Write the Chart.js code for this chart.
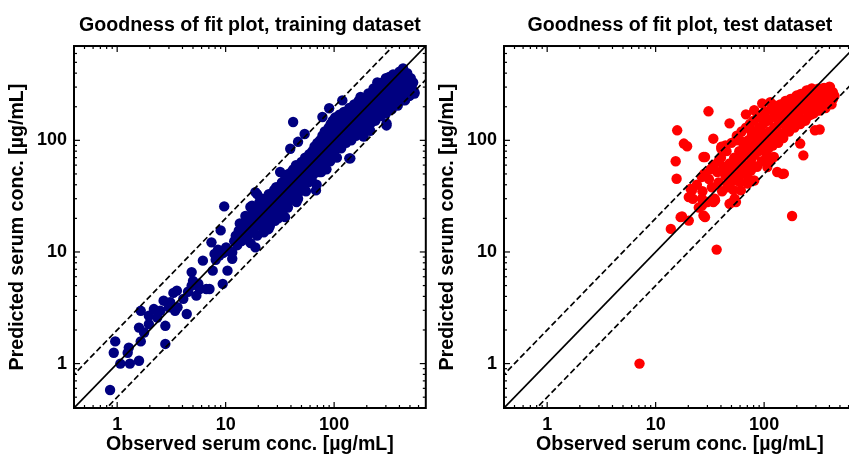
<!DOCTYPE html>
<html><head><meta charset="utf-8">
<script src="https://cdn.jsdelivr.net/npm/chart.js@4.4.1/dist/chart.umd.min.js"></script>
<style>
html,body{margin:0;padding:0;background:#fff;}
#wrap{position:relative;width:849px;height:456px;overflow:hidden;background:#fff;}
canvas{position:absolute;top:0;}
#c1{left:0;}
#c2{left:430px;}
</style></head><body>
<div id="wrap"><canvas id="c1" width="431" height="456"></canvas><canvas id="c2" width="431" height="456"></canvas></div>
<script>
// ---- axis ticks ----
const axisMin = 0.4, axisMax = 700;
const majorTicks = [1, 10, 100];
const tickLabels = ['1', '10', '100'];
const minorTicks = [0.5,0.6,0.7,0.8,0.9,2,3,4,5,6,7,8,9,20,30,40,50,60,70,80,90,200,300,400,500,600];

// ---- reference lines (identity, 2-fold, 0.5-fold) ----
const refX = [0.1, 1000];
const unityY = [0.1, 1000];
const upperY = [0.2, 2000];
const lowerY = [0.05, 500];

// ---- training dataset ----
const trainObs = [
0.86,0.96,0.93,1.07,1.31,1.59,1.28,1.25,1.65,1.65,
1.59,1.77,1.96,2.18,1.96,2.34,2.78,2.78,2.68,2.5,
3.3,3.55,3.42,3.08,4.07,4.38,4.86,4.86,5.37,5.77,
6.64,7.1,6.17,7.4,7.6,7.9,9.0,9.4,10.4,10.1,
8.75,11.5,11.5,12.4,14.8,16.4,18.8,15.8,17.5,16.9,
20.2,23.3,26.6,35.3,30.6,37.7,9.7,18.8,17.5,13.2,
3.0,3.6,4.5,5.0,5.6,8.1,8.5,9.5,10.8,12.0,
15,16,16.5,17,17.5,18,18.5,19,19.5,20,
20.5,21,21.5,22,22.5,23,23.5,24,24.5,25,
25.5,26,26.5,27,27.5,28,28.5,29,29.5,30,
31,31.5,32,33,33.5,34,35,35.5,36,37,
37.5,38,39,40,40.5,41,42,43,44,45,
46,46.5,47,48,49,50,51,52,53,54,
55,56,57,58,59,60,61,62,63,64,
65,66,67,68,69,70,71,72,73,74,
75,76,77,78,79,80,81,82,83,84,
85,86,87,88,89,90,91,92,93,94,
95,96,97,98,99,100,102,104,106,108,
110,112,114,116,118,120,123,126,129,132,
135,138,141,144,147,150,153,156,159,162,
165,168,171,174,177,180,184,188,192,196,
200,205,210,215,220,225,230,235,240,245,
250,256,262,268,274,280,287,294,301,308,
315,323,331,340,349,358,367,376,386,396,
406,416,427,438,449,460,472,484,496,509,
522,535,550,
41.9,400,495,322,267,450,304,138,76,68,
119,90,78,53.5,46.5,39.4,31.8,19.5,207,175,
152,231,374,215,187,550,460,400,432,141,
304,250,300,350,
12.8,13.5,14,14.5,15.2,15.5,16.2,17.2,18.2,19.2,
20.8,21.8,22.8,23.8,24.8,26.2,27.2,28.2,29.2,30.5,
32.5,34.5,36.5,38.5,40.5,42.5,44.5,46.5
];
const trainPred = [
0.58,1.58,1.25,1.0,1.0,1.06,1.39,1.25,1.58,2.97,
2.1,1.9,2.26,3.08,2.68,2.59,1.5,2.18,3.66,2.97,
4.3,4.5,2.97,3.55,3.8,2.78,4.99,6.6,4.06,4.66,
4.66,4.66,8.36,12.2,6.8,9.6,15.6,5.18,6.8,11.0,
9.3,8.7,9.9,14,13.6,16.6,11.0,19.1,20.5,25.3,
22,23.5,19.1,20.5,25.3,28,25.6,34.4,26,15.5,
3.2,3.2,4.4,5.5,5.2,8.5,10.5,9.8,10.2,12.5,
17,14,20,12,22,16,25,18,14,22,
28,17,20,26,15,24,30,19,22,33,
17,27,21,31,24,36,19,28,33,23,
38,26,30,42,22,35,28,46,32,40,
25,50,34,44,30,38,55,36,48,28,
58,41,34,52,44,64,38,56,46,70,
35,60,50,42,75,55,66,45,80,58,
50,88,62,72,40,95,60,78,52,100,
68,85,58,110,75,92,62,120,80,100,
55,115,70,90,130,78,105,65,140,88,
118,72,150,96,125,80,160,110,70,135,
92,170,120,85,145,100,180,128,95,160,
110,195,140,100,175,125,210,150,110,190,
135,225,165,120,205,145,240,175,130,220,
160,250,190,140,230,170,265,200,150,245,
185,280,215,165,260,200,300,235,175,280,
215,320,250,190,300,230,345,270,205,320,
250,380,290,230,340,270,400,310,250,360,
290,330,270,
146,412,344,370,327,228,136,69,52,35.6,
228,194,162,114,97,84,52,33,263,245,
199,292,360,122,108,263,280,280,441,69,
142,330,360,390,
11.5,18,12.5,16,21,13,17.5,15,21,24,
19,30,18,26,16,30,20,26,38,20,
35,25,44,29,52,33,60,30
];

// ---- test dataset ----
const testObs = [
30.7,15.8,18.2,19.5,15.3,15.6,34,48,68,81,
96,28.5,40.3,21.6,26.7,20.2,28.5,20.2,17,13.8,
26.7,35.3,181,230,132,152,325,400,246,375,
294,123,93,61,55,70.5,107,7.1,36.5,17.5,
27.6,51.5,123,168,256,375,147,27.6,40.3,21,
26.7,34,53.5,114,75.5,57,46.5,114,141,163,
200,275,350,48,81,114,215,432,
22,24,25,27,28,30,31,33,34,35,
37,38,40,41,42,44,45,46,48,49,
50,52,53,55,56,58,59,61,62,64,
65,67,68,70,71,73,74,76,77,79,
80,82,84,85,87,89,90,92,94,96,
98,100,103,106,109,112,115,118,121,124,
127,130,134,137,141,145,149,153,157,161,
166,170,175,180,185,190,195,200,206,212,
218,225,232,239,246,254,262,270,278,287,
296,305,315,325,335,346,357,368,380,392,
405,418,430,445,
45,52,60,66,72,78,86,95,105,110,
120,135,150,170,190,215,240,270,300,330,
360,60,75,95,38,32,44,55
];
const testPred = [
182,123,93.6,88.6,65,45.3,103.5,142,171,186,
214,71,87.5,35.6,47,31,20.5,19.1,20.5,16.1,
26,29,21,73.3,52,50.3,125,302,280,214,
123,71,100,35.6,28,41,57.6,1.0,10.5,20.8,
21.2,28,206,214,280,292,50,71,84,36.8,
30,28,30,69,53.7,43.7,41,220,207,220,
253,292,292,27,43.7,66,93.6,236,
30,40,25,35,50,28,45,38,60,30,
52,42,70,35,58,48,80,38,62,52,
95,44,70,58,110,48,80,66,120,55,
90,75,130,60,100,85,140,68,110,92,
150,74,120,100,160,80,130,105,170,88,
140,115,180,95,150,120,190,100,160,130,
200,108,170,140,210,115,180,150,225,125,
190,160,235,135,200,170,245,145,210,180,
260,155,220,190,270,165,230,200,280,175,
240,210,290,185,250,220,295,195,260,230,
300,210,270,250,
55,36,42,50,45,60,58,65,75,85,
90,95,105,120,130,140,150,170,185,200,
230,100,125,160,65,55,90,100
];

const FONT = "'Liberation Sans', Arial, Helvetica, sans-serif";

const framePlugin = {
  id: 'frame',
  afterDraw(chart) {
    const {ctx, chartArea: a, scales: {x, y}} = chart;
    ctx.save();
    ctx.strokeStyle = '#000';
    const seg = (x1, y1, x2, y2) => { ctx.beginPath(); ctx.moveTo(x1, y1); ctx.lineTo(x2, y2); ctx.stroke(); };
    const drawTicks = (vals, len) => {
      vals.forEach(v => {
        const px = x.getPixelForValue(v);
        if (px > a.left + 1 && px < a.right - 1) { seg(px, a.bottom, px, a.bottom - len); seg(px, a.top, px, a.top + len); }
        const py = y.getPixelForValue(v);
        if (py > a.top + 1 && py < a.bottom - 1) { seg(a.left, py, a.left + len, py); seg(a.right, py, a.right - len, py); }
      });
    };
    ctx.lineWidth = 1.2;
    drawTicks(majorTicks, 6);
    drawTicks(minorTicks, 3);
    ctx.lineWidth = 2;
    ctx.strokeRect(a.left, a.top, a.right - a.left, a.bottom - a.top);
    ctx.restore();
  }
};

function lineData(ys) { return refX.map((x, i) => ({x: x, y: ys[i]})); }

function makeChart(id, title, obs, pred, color) {
  const pts = obs.map((x, i) => ({x: x, y: pred[i]}));
  const axisCommon = {
    type: 'logarithmic', min: axisMin, max: axisMax,
    grid: {display: false, drawTicks: false},
    border: {display: false},
    afterBuildTicks: s => { s.ticks = majorTicks.map(v => ({value: v})); },
  };
  return new Chart(document.getElementById(id), {
    type: 'scatter',
    data: {datasets: [
      {type: 'line', data: lineData(unityY), borderColor: '#000', borderWidth: 1.7, pointRadius: 0, fill: false},
      {type: 'line', data: lineData(upperY), borderColor: '#000', borderWidth: 1.7, borderDash: [6, 3], pointRadius: 0, fill: false},
      {type: 'line', data: lineData(lowerY), borderColor: '#000', borderWidth: 1.7, borderDash: [6, 3], pointRadius: 0, fill: false},
      {data: pts, backgroundColor: color, borderWidth: 0, pointRadius: 5.2, pointHoverRadius: 5.2}
    ]},
    options: {
      responsive: false, animation: false, devicePixelRatio: 1,
      layout: {padding: {left: 0, right: 2, top: 0, bottom: 0}},
      plugins: {
        legend: {display: false}, tooltip: {enabled: false},
        title: {display: true, fullSize: false, text: title, color: '#000',
          font: {family: FONT, size: 19.6, weight: 'bold', lineHeight: 1.2},
          padding: {top: 14.2, bottom: 8.3}}
      },
      scales: {
        x: Object.assign({}, axisCommon, {
          position: 'bottom',
          ticks: {color: '#000', font: {family: FONT, size: 18, weight: 'bold'}, padding: 6, maxRotation: 0, autoSkip: false,
            callback: v => tickLabels[majorTicks.indexOf(v)] || ''},
          title: {display: true, text: 'Observed serum conc. [µg/mL]', color: '#000',
            font: {family: FONT, size: 19.6, weight: 'bold', lineHeight: 1}, padding: {top: 0, bottom: 1.2}},
          afterFit: s => { s.height = 48; }
        }),
        y: Object.assign({}, axisCommon, {
          position: 'left',
          ticks: {color: '#000', font: {family: FONT, size: 18, weight: 'bold'}, padding: 7, autoSkip: false,
            callback: v => tickLabels[majorTicks.indexOf(v)] || ''},
          title: {display: true, text: 'Predicted serum conc. [µg/mL]', color: '#000',
            font: {family: FONT, size: 19.6, weight: 'bold', lineHeight: 1}, padding: {top: 8.2, bottom: 0}},
          afterFit: s => { s.width = 74; }
        })
      }
    },
    plugins: [framePlugin]
  });
}

makeChart('c1', 'Goodness of fit plot, training dataset', trainObs, trainPred, 'rgb(0,0,128)');
makeChart('c2', 'Goodness of fit plot, test dataset', testObs, testPred, 'rgb(255,0,0)');
</script>
</body></html>
